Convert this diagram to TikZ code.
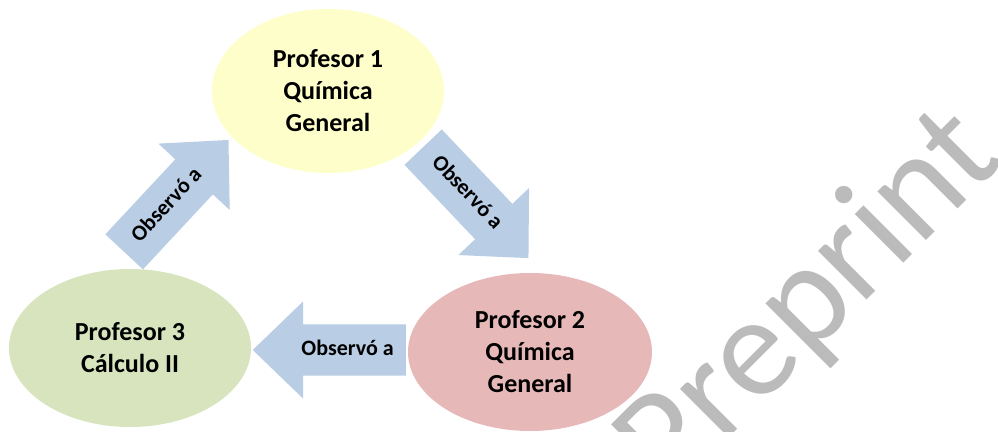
\documentclass[tikz,border=0pt]{standalone}
\usepackage{fontspec}
\setmainfont{Carlito}
\usetikzlibrary{shapes.geometric, shapes.arrows}
\definecolor{amarillo}{HTML}{FEFECA}
\definecolor{verde}{HTML}{D7E4BD}
\definecolor{rosa}{HTML}{E6B9B8}
\definecolor{azul}{HTML}{B9CDE5}
\definecolor{marca}{HTML}{BBBBBB}
\tikzset{
  profe/.style={ellipse, inner sep=0pt, align=center, font=\fontsize{26}{32}\selectfont\bfseries},
  obs/.style={single arrow, fill=azul, inner xsep=0pt, inner ysep=15pt, text height=16pt, text depth=5pt,
    minimum height=153pt, minimum width=97pt, single arrow head extend=23pt, single arrow tip angle=88,
    font=\fontsize{22}{26}\selectfont\bfseries}
}

\begin{document}
\begin{tikzpicture}[x=1pt,y=1pt]
        \useasboundingbox (0,0) rectangle (998,431);
        \clip (0,0) rectangle (998,431);
        \node[rotate=45, anchor=base west, text=marca, font=\fontsize{144}{144}\selectfont] (marca) at (667,-69) {Preprint};

        \node[profe, fill=amarillo, minimum width=232pt, minimum height=164pt] (p1) at (328,340) {Profesor 1\\Química\\General};
        \node[profe, fill=rosa, minimum width=244pt, minimum height=158pt] (p2) at (530,79) {Profesor 2\\Química\\General};
        \node[profe, fill=verde, minimum width=242pt, minimum height=158pt] (p3) at (130,83) {Profesor 3\\Cálculo II};

        \node[obs, rotate=47, anchor=tail] (a31) at (124,179) {Observó a\hspace{12pt}};
        \node[obs, rotate=-46.5, anchor=tail] (a12) at (423,284) {Observó a\hspace{12pt}};
        \node[obs, shape border rotate=180, anchor=tail] (a23) at (406,81) {\hspace{10pt}Observó a};
\end{tikzpicture}
\end{document}
